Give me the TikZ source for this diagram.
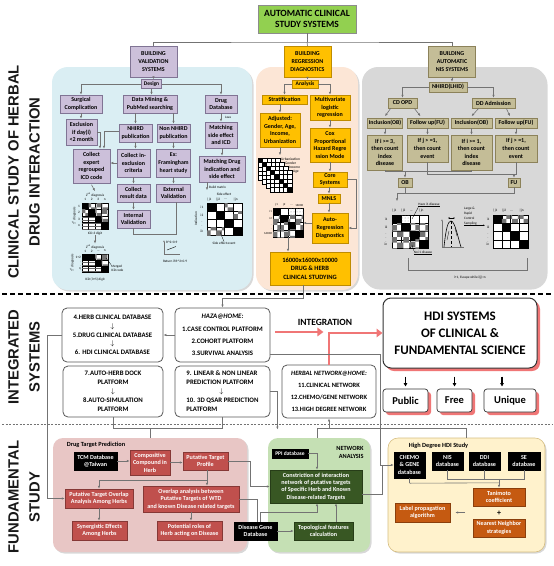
\documentclass[tikz,border=0pt]{standalone}
\usepackage{fontspec}
\setmainfont{Carlito}
\newfontfamily\arialf{Liberation Sans}
\usetikzlibrary{arrows.meta,patterns,shadows,calc}
\definecolor{purp}{RGB}{204,192,218}
\definecolor{purpd}{RGB}{128,116,148}
\definecolor{orng}{RGB}{255,192,0}
\definecolor{orngd}{RGB}{191,140,0}
\definecolor{khaki}{RGB}{196,189,151}
\definecolor{khakid}{RGB}{140,130,90}
\definecolor{tgreen}{RGB}{146,208,80}
\definecolor{pblue}{RGB}{218,238,243}
\definecolor{porng}{RGB}{252,230,214}
\definecolor{pgrey}{RGB}{216,216,216}
\definecolor{ppink}{RGB}{232,198,197}
\definecolor{pgreen}{RGB}{197,224,180}
\definecolor{pyell}{RGB}{255,242,204}
\definecolor{pyelld}{RGB}{214,190,130}
\definecolor{redb}{RGB}{192,80,77}
\definecolor{dgreen}{RGB}{56,87,35}
\definecolor{brownb}{RGB}{197,90,17}
\definecolor{salmon}{RGB}{240,118,118}
\newcommand{\mxgrid}[5]{%
  \foreach \mxrow [count=\mxi] in {#5} {%
    \foreach \mxt [count=\mxj] in \mxrow {%
      \draw[cell\mxt] ({#1+(\mxj-1)*#3},{#2+(\mxi-1)*#4}) rectangle ++(#3,#4);
    }%
  }%
}
\tikzset{
  sz/.style 2 args={minimum width=#1, minimum height=#2},
  bxbase/.style={align=center, inner sep=0pt, font=\bfseries\fontsize{6}{7.6}\selectfont},
  pb/.style={bxbase, fill=purp, draw=purpd, line width=0.5pt},
  ob/.style={bxbase, fill=orng, draw=orngd, line width=0.5pt},
  kb/.style={bxbase, fill=khaki, draw=khakid, line width=0.5pt},
  rb/.style={bxbase, fill=redb, draw=redb!70!black, line width=0.4pt, text=white, font=\bfseries\fontsize{6.1}{7.4}\selectfont},
  gb/.style={rb, fill=dgreen, draw=dgreen!70!black},
  blk/.style={rb, fill=black, draw=black},
  brb/.style={rb, fill=brownb, draw=brownb!70!black},
  ib/.style={bxbase, fill=white, draw=black!65, line width=0.8pt, rounded corners=5pt, font=\bfseries\fontsize{6.8}{8.7}\selectfont},
  hdibox/.style={bxbase, fill=white, draw=black!80, line width=1pt, rounded corners=8pt, drop shadow={shadow xshift=3pt, shadow yshift=-3pt, fill=salmon, opacity=1}, font=\bfseries\fontsize{13}{17}\selectfont},
  pfbox/.style={hdibox, line width=0.7pt, rounded corners=3pt, font=\bfseries\fontsize{10.5}{12}\selectfont},
  pnl/.style={inner sep=0pt, rounded corners=16pt, drop shadow={shadow xshift=1.5pt, shadow yshift=-1.5pt, opacity=0.3}},
  ptitle/.style={inner sep=0pt, font=\bfseries\fontsize{6.3}{7.5}\selectfont},
  tl/.style={inner sep=0pt, font=\fontsize{3.4}{4}\selectfont},
  sidelab/.style={rotate=90, align=center, inner sep=0pt, text=black!90, font=\arialf\bfseries\fontsize{14.8}{21}\selectfont},
  conn/.style={draw=black!55, line width=0.6pt},
  arr/.style={conn, -{Latex[length=3pt,width=2.4pt]}},
  barr/.style={draw=black, line width=1.1pt, -{Latex[length=3.5pt,width=4pt]}},
  parr/.style={draw=salmon, line width=2.8pt, -{Triangle[length=6pt,width=8.5pt]}},
  cellw/.style={fill=white, draw=black, line width=0.3pt},
  cellb/.style={fill=black, draw=black, line width=0.3pt},
  cellc/.style={fill=white, draw=black, line width=0.3pt, postaction={pattern=checkerboard, pattern color=black!55}},
  cellh/.style={fill=white, draw=black, line width=0.3pt, postaction={pattern=horizontal lines, pattern color=black!60}},
  celld/.style={fill=white, draw=black, line width=0.3pt, postaction={pattern=dots, pattern color=black!45}}
}
\begin{document}
\begin{tikzpicture}[x=1pt,y=-1pt]
\fill[white] (0,0) rectangle (554,566);
\useasboundingbox (0,0) rectangle (554,566);

% ---------- side labels ----------
\node[sidelab] (lab1) at (24,172) {CLINICAL STUDY OF HERBAL\\DRUG INTERACTION};
\node[sidelab] (lab2) at (24,357) {INTEGRATED\\SYSTEMS};
\node[sidelab] (lab3) at (24,497) {FUNDAMENTAL\\STUDY};

% ---------- dashed separators ----------
\coordinate (dl1a) at (2,294); \coordinate (dl1b) at (551,294);
\draw[line width=1.3pt, dash pattern=on 5pt off 3pt] (dl1a) -- (dl1b);
\coordinate (dl2a) at (2,424); \coordinate (dl2b) at (552,424);
\draw[line width=0.5pt, black!55, dash pattern=on 2pt off 1.5pt] (dl2a) -- (dl2b);

% ---------- panels ----------
\node[pnl, fill=pblue, sz={200}{223}] (pval) at (152,178.5) {};
\node[pnl, fill=porng, sz={102}{223}] (preg) at (307,178.5) {};
\node[pnl, fill=pgrey, sz={184}{221}] (pnis) at (454,177.5) {};
\node[pnl, fill=ppink, sz={194}{114}, rounded corners=10pt] (pdtp) at (150,495) {};
\node[pnl, fill=pgreen, sz={102}{114}, rounded corners=10pt] (pnet) at (319,495) {};
\node[pnl, fill=pyell, draw=pyelld, line width=0.6pt, sz={157}{114}, rounded corners=10pt] (phd) at (466.5,495) {};

% ---------- top ----------
\node[bxbase, fill=tgreen, draw=black!45, line width=0.6pt, sz={98}{28}, font=\bfseries\fontsize{9.5}{11.5}\selectfont] (title) at (307,19) {AUTOMATIC CLINICAL\\STUDY SYSTEMS};
\node[pb, sz={47}{31}, font=\bfseries\fontsize{6}{8}\selectfont] (bval) at (153.5,61.5) {BUILDING\\VALIDATION\\SYSTEMS};
\node[ob, sz={47}{31}, font=\bfseries\fontsize{6}{8}\selectfont] (breg) at (307.5,61.5) {BUILDING\\REGRESSION\\DIAGNOSTICS};
\node[kb, sz={47}{31}, font=\bfseries\fontsize{6}{8}\selectfont] (bnis) at (452,61.5) {BUILDING\\AUTOMATIC\\NIS SYSTEMS};
\coordinate (tj) at (307,42);
\draw[conn] (title.south) -- (tj);
\draw[conn] (bval.north) |- (tj) -| (bnis.north);
\draw[conn] (tj) -- (breg.north);

% ---------- blue panel ----------
\node[pb, sz={20}{9}, font=\bfseries\fontsize{5.5}{6}\selectfont] (design) at (151.5,84) {Design};
\node[pb, sz={42}{18}] (surg) at (81,104) {Surgical\\Complication};
\node[pb, sz={54}{18}] (dmin) at (150,104) {Data Mining \&\\PubMed searching};
\node[pb, sz={32}{18}] (drugdb) at (221,104) {Drug\\Database};
\node[pb, sz={31}{26}] (excl) at (81.5,132) {Exclusion\\if day(i)\\<2 month};
\node[pb, sz={33}{18}] (nhird) at (135.5,133) {NHIRD\\publication};
\node[pb, sz={33}{18}] (nonnhird) at (173.5,133) {Non NHIRD\\publication};
\node[pb, sz={32}{26}] (msde) at (221,135) {Matching\\side effect\\and ICD};
\node[pb, sz={37}{34}] (collexp) at (91.5,166) {Collect\\expert\\regrouped\\ICD code};
\node[pb, sz={33}{28}] (collinc) at (133.5,163) {Collect in-\\exclusion\\criteria};
\node[pb, sz={34}{28}, font=\bfseries\fontsize{5.8}{7.6}\selectfont] (fram) at (173.5,163) {Ex:\\Framingham\\heart study};
\node[pb, sz={46}{26}] (mdis) at (222,169) {Matching Drug\\indication and\\side effect};
\node[pb, sz={33}{18}] (collres) at (133.5,193) {Collect\\result data};
\node[pb, sz={34}{18}] (extval) at (173.5,193) {External\\Validation};
\node[pb, sz={33}{18}] (intval) at (133.5,219) {Internal\\Validation};
\node[tl, anchor=west] (java) at (225,117.5) {Java};

\draw[arr] (bval.south) -- (bval.south |- design.north);
\draw[arr] (design.west) -| (surg.north);
\draw[arr] (design.east) -| (drugdb.north);
\draw[arr] (design.south) -- (design.south |- dmin.north);
\draw[arr] (surg.south) -- (surg.south |- excl.north);
\draw[arr] (nhird.north |- dmin.south) -- (nhird.north);
\draw[arr] (nonnhird.north |- dmin.south) -- (nonnhird.north);
\draw[arr] (drugdb.south) -- (drugdb.south |- msde.north);
\path (collexp.north) ++(8.5,0) coordinate (cea);
\path (collexp.north) ++(12.5,0) coordinate (ceb);
\draw[arr] (excl.east) -| (cea);
\draw[arr] ([yshift=2pt]nhird.west) -| (ceb);
\draw[arr] (nhird.south) -- (nhird.south |- collinc.north);
\draw[arr] (nonnhird.south) -- (nonnhird.south |- fram.north);
\draw[arr] (collinc.west) -- (collinc.west -| collexp.east);
\draw[arr] (mdis.north |- msde.south) -- (mdis.north);
\draw[arr] (collinc.south) -- (collinc.south |- collres.north);
\draw[arr] (collres.south) -- (collres.south |- intval.north);
\draw[arr] (fram.south) -- (fram.south |- extval.north);
\draw[conn] (intval.south) -- ++(0,6) -| ([xshift=2.5pt]extval.south);

% matrix 1
\mxgrid{82}{203}{6.5}{6.5}{{b,c,c,c},{c,b,c,c},{h,h,b,c},{h,h,h,b}}
\node[tl] (m1t) at (95,194.5) {2\textsuperscript{nd} diagnosis};
\foreach \t [count=\k] in {1,2,3,n} \node[tl] (m1c\k) at ({82+(\k-0.5)*6.5},199.5) {\t};
\foreach \t [count=\k] in {1,2,3,n} \node[tl] (m1r\k) at (79,{203+(\k-0.5)*6.5}) {\t};
\node[tl, rotate=90] (m1l) at (74,216) {1\textsuperscript{st} diagnosis};
\node[tl] (m1b) at (95,233.5) {ICD-3 digit};
\draw[arr] ([yshift=-1.5pt]collexp.south) -- ([yshift=1pt]m1t.north);
% matrix 2
\node[tl] (m2t) at (95,247) {2\textsuperscript{nd} diagnosis};
\draw[arr] (m1b.south) -- ([yshift=1pt]m2t.north);
\foreach \t [count=\k] in {1,2,\ldots,n} \node[tl] (m2c\k) at ({82+(\k-0.5)*6.5},251) {\t};
\mxgrid{82}{254}{6.5}{6}{{b,b,c,c},{h,h,b,c},{h,h,h,b}}
\foreach \t [count=\k] in {1+2,$\vdots$,n} \node[tl, anchor=east] (m2r\k) at (81,{254+(\k-0.5)*6}) {\t};
\node[tl, rotate=90] (m2l) at (72,263) {1\textsuperscript{st} diagnosis};
\node[tl, align=left, anchor=west] (m2m) at (111,268) {Merged\\ICD code};
\coordinate (m2p) at (106,258);
\draw[line width=0.3pt] (m2m.north west) -- (m2p);
\node[tl] (m2b) at (95,280) {ICD (3+5) digit};
% R2 chart
\coordinate (r2o) at (164,254);
\draw[conn, -{Latex[length=2pt,width=1.6pt]}] (r2o) -- ++(0,-14);
\draw[conn] (r2o) -- ++(16,0);
\draw[line width=0.4pt] (167,250) -- (176,246.5);
\node[tl, anchor=west] (r2a) at (166,242) {R\textasciicircum 2>0.9};
\node[tl] (r2b) at (175,261) {Return if R\textasciicircum 2<0.9};
% matrix 3
\path (mdis.south) ++(-15,0) coordinate (bma);
\draw[arr] (bma) -- ++(0,8);
\node[tl, anchor=west] (bml) at (209,187) {Build matrix};
\node[tl] (m3t) at (224,194.5) {Side effect};
\foreach \t [count=\k] in {|j1,|j2,\ldots,|jn} \node[tl, anchor=west] (m3c\k) at ({207+(\k-1)*8.75},199.5) {\t};
\mxgrid{207}{203}{8.75}{8}{{b,w,c,w},{w,b,w,c},{w,w,b,w},{c,c,w,b}}
\foreach \t [count=\k] in {i1,i2,$\vdots$,in} \node[tl] (m3r\k) at (202,{203+(\k-0.5)*8}) {\t};
\node[tl, rotate=90] (m3l) at (196,219) {Indication};
\node[tl] (m3e) at (224,243) {Side effect event};
\coordinate (m3p) at (220,232);
\draw[line width=0.3pt] (m3e.north) -- (m3p);

% ---------- orange panel ----------
\node[ob, sz={26}{8}, font=\bfseries\fontsize{5.5}{6}\selectfont] (anal) at (305,84) {Analysis};
\node[ob, sz={45}{9}] (strat) at (284.5,99.5) {Stratification};
\node[ob, sz={40}{25}] (multi) at (330,107.5) {Multivariate\\logistic\\regression};
\node[ob, sz={40}{34}] (adj) at (280,130) {Adjusted:\\Gender, Age,\\Income,\\Urbanization};
\node[ob, sz={40}{34}] (cox) at (330,145) {Cox\\Proportional\\Hazard Regre\\ssion Mode};
\node[ob, sz={34}{15}] (core) at (330,179.5) {Core\\Systems};
\node[ob, sz={22}{9}] (mnls) at (329,198.5) {MNLS};
\node[ob, sz={36}{30}] (autoreg) at (330,228) {Auto-\\Regression\\Diagnostics};
\node[ob, sz={80}{33}, font=\bfseries\fontsize{6.5}{8.6}\selectfont] (big) at (310,268.5) {16000x16000x10000\\DRUG \& HERB\\CLINICAL STUDYING};
% stacked matrices
\foreach \k in {0,1,2,3} {
  \mxgrid{258+4*\k}{158+4*\k}{4.4}{4.4}{{b,w,w,w,w},{w,b,w,w,w},{w,w,b,w,w},{w,w,w,b,w},{w,w,w,w,b}}
}
\foreach \t [count=\k] in {Urbanization,Gender,Income,Age} \node[tl, anchor=west, font=\fontsize{3.6}{4}\selectfont] (sl\k) at ({277+4*\k},{155.5+4*\k}) {\t};
% matrix 4
\mxgrid{273}{208}{7.5}{7.25}{{b,w,d,d},{c,b,c,c},{c,c,b,c},{c,c,c,b}}
\node[inner sep=0pt, sz={30}{29}] (m4) at (288,222.5) {};
\foreach \t [count=\k] in {j1,j2,\ldots,16000} \node[tl, font=\fontsize{3}{3.5}\selectfont] (m4c\k) at ({273+(\k-0.5)*7.5},205) {\t};
\foreach \t [count=\k] in {i1,i2,$\vdots$,16000} \node[tl, anchor=east, font=\fontsize{3}{3.5}\selectfont] (m4r\k) at (272,{208+(\k-0.5)*7.25}) {\t};

\draw[arr] (breg.south) -- (breg.south |- anal.north);
\draw[arr] (anal.west) -| (strat.north);
\draw[arr] (anal.east) -| (multi.north);
\draw[arr] (adj.north |- strat.south) -- (adj.north);
\draw[arr] (adj.south) -- ([yshift=-8pt]adj.south);
\draw[arr] (multi.south) -- (multi.south |- cox.north);
\draw[arr] (cox.south) -- (cox.south |- core.north);
\draw[arr] (mnls.north |- core.south) -- (mnls.north);
\draw[arr] (mnls.south) -- (mnls.south |- autoreg.north);
\draw[arr] (core.east) -- ++(9,0) |- (autoreg.east);
\path (autoreg.west) ++(0,-5) coordinate (arw);
\draw[arr] (arw) -- (arw -| m4.east);
\draw[arr] (m4.south) -- (m4.south |- big.north);

% ---------- grey panel ----------
\node[kb, sz={38}{10}] (nhirdl) at (448,87) {NHIRD(LHID)};
\node[kb, sz={29}{10}] (cdopd) at (402.5,103) {CD OPD};
\node[kb, sz={43}{10}] (ddadm) at (493.5,103) {DD Admission};
\node[kb, sz={35}{10}, font=\bfseries\fontsize{5.8}{7.6}\selectfont] (inc1) at (385,123) {Inclusion(OB)};
\node[kb, sz={41}{10}] (fu1) at (427.5,123) {Follow up(FU)};
\node[kb, sz={41}{10}] (inc2) at (471.5,123) {Inclusion(OB)};
\node[kb, sz={42}{10}] (fu2) at (516,123) {Follow up(FU)};
\node[kb, sz={35}{35}] (if1) at (385,152.5) {If i >= 3,\\then count\\index\\disease};
\node[kb, sz={41}{27}] (if2) at (427.5,148.5) {If j > =1,\\then count\\event};
\node[kb, sz={41}{35}] (if3) at (471.5,152.5) {If i >= 1,\\then count\\index\\disease};
\node[kb, sz={42}{27}] (if4) at (516,148.5) {If j > =1,\\then count\\event};
\node[kb, sz={14}{9}] (ob) at (405,182.5) {OB};
\node[kb, sz={12}{9}] (fu) at (514,182.5) {FU};

\draw[arr] (bnis.south) -- (bnis.south |- nhirdl.north);
\draw[arr] (nhirdl.west) -| (cdopd.north);
\draw[arr] (nhirdl.east) -| (ddadm.north);
\draw[arr] ([xshift=3pt]cdopd.south west) -- ([yshift=1.5pt]inc1.north);
\draw[arr] ([xshift=-3pt]cdopd.south east) -- ([xshift=-7pt,yshift=1.5pt]fu1.north);
\draw[arr] ([xshift=7pt]ddadm.south west) -- ([yshift=1.5pt]inc2.north);
\draw[arr] ([xshift=-9pt]ddadm.south east) -- ([xshift=-6pt,yshift=1.5pt]fu2.north);
\draw[arr] (inc1.south) -- (if1.north);
\draw[arr] (fu1.south) -- (if2.north);
\draw[arr] (inc2.south) -- (if3.north);
\draw[arr] (fu2.south) -- (if4.north);
\draw[conn] (if1.south) -- ++(0,1.5) -| (if3.south);
\path (if1.south) ++(0,1.5) coordinate (obk);
\draw[arr] (obk -| ob.north) -- (ob.north);
\draw[conn] (if2.south) -- ++(0,12) -| (if4.south);
\path (if2.south) ++(0,12) coordinate (fuk);
\draw[arr] (fuk -| fu.north) -- (fu.north);
\draw[conn] (ob.south) -- ++(0,6) coordinate (obj);
\draw[conn] (fu.south) |- (obj);
\draw[arr] (obj) -- ++(-8,0) -- ++(0,8);
% matrix 5
\node[tl] (hv) at (429,205) {\underline{Have i1 disease}};
\foreach \t [count=\k] in {|j1,|j2,\ldots,|jn} \node[tl, anchor=west] (m5c\k) at ({392+(\k-1)*9},211) {\t};
\mxgrid{392}{215}{9}{8.25}{{b,d,w,w},{c,b,c,c},{c,c,b,c},{c,c,c,b}}
\foreach \t [count=\k] in {i1,i2,$\vdots$,in} \node[tl] (m5r\k) at (386,{215+(\k-0.5)*8.25}) {\t};
\coordinate (hvp) at (412,219);
\draw[line width=0.3pt] (hv.south west) -- (hvp);
\node[tl] (nov) at (423,253) {\underline{No i1 disease}};
\coordinate (nvp) at (412,245);
\draw[line width=0.3pt] (nov.north west) -- (nvp);
% chart
\coordinate (ch0) at (442,247);
\draw[conn, -{Latex[length=2pt,width=1.6pt]}] (ch0) -- ++(0,-28);
\draw[conn] (ch0) -- ++(22,0);
\draw[line width=0.6pt] (444,247) .. controls (446,228) and (448,221) .. (451,221) .. controls (455,221) and (458,238) .. (461,247);
\draw[line width=0.3pt, {Latex[length=1.5pt,width=1.5pt]}-{Latex[length=1.5pt,width=1.5pt]}] (448,218) -- (455,218);
\draw[line width=0.3pt, densely dashed] (451,221) -- (451,247);
\draw[line width=0.3pt] (447,240) -- (449,231);
\draw[line width=0.3pt] (455,228) -- (457,236);
\node[tl, align=left, anchor=north west, font=\fontsize{3.4}{5}\selectfont] (lrc) at (464,207) {Large \&\\Rapid\\Control\\Sampling};
\draw[line width=0.3pt, -{Latex[length=2pt,width=1.6pt]}] (lrc.south west) -- ++(21,0);
% matrix 6
\foreach \t [count=\k] in {|j1,|j2,\ldots,|jn} \node[tl, anchor=west] (m6c\k) at ({493+(\k-1)*8.75},211) {\t};
\mxgrid{493}{215}{8.75}{8.25}{{b,c,c,c},{w,b,w,w},{w,w,b,w},{w,w,w,b}}
\foreach \t [count=\k] in {i1,i2,$\vdots$,in} \node[tl] (m6r\k) at (488,{215+(\k-0.5)*8.25}) {\t};
% bracket
\coordinate (bk1) at (408,258); \coordinate (bk2) at (527,258);
\draw[conn] (bk1) -- ++(0,12) -| (bk2);
\node[tl] (esc) at (470,278) {i+1, Escape while i(j)=n};

% ---------- integrated systems ----------
\node[ib, sz={101}{54}] (db46) at (112.5,335) {4.HERB CLINICAL DATABASE\\$\downarrow$\\5.DRUG CLINICAL DATABASE\\$\downarrow$\\6. HDI CLINICAL DATABASE};
\node[ib, sz={95}{54}, font=\bfseries\fontsize{6.8}{12.4}\selectfont] (haza) at (222.5,335) {\textit{HAZA@HOME:}\\1.CASE CONTROL PLATFORM\\2.COHORT PLATFORM\\3.SURVIVAL ANALYSIS};
\node[ib, sz={100}{51}, font=\bfseries\fontsize{6.8}{9}\selectfont] (db78) at (113,391.5) {7.AUTO-HERB DOCK\\PLATFORM\\$\downarrow$\\8.AUTO-SIMULATION\\PLATFORM};
\node[ib, sz={95}{51}, align=left, font=\bfseries\fontsize{6.8}{9}\selectfont] (db910) at (222.5,391.5) {9. LINEAR \& NON LINEAR\\PREDICTION PLATFORM\\\hspace*{33pt}$\downarrow$\\10. 3D QSAR PREDICTION\\PLATFORM};
\node[ib, sz={94}{53}, font=\bfseries\fontsize{6.5}{12.2}\selectfont] (hn) at (329,391.5) {\textit{HERBAL NETWORK@HOME:}\\11.CLINICAL NETWORK\\12.CHEMO/GENE NETWORK\\13.HIGH DEGREE NETWORK};
\node[hdibox, sz={154}{70}] (hdi) at (460,333) {HDI SYSTEMS\\OF CLINICAL \&\\FUNDAMENTAL SCIENCE};
\node[pfbox, sz={45}{23}] (pub) at (405.5,400.5) {Public};
\node[pfbox, sz={35}{23}] (free) at (454.5,400.5) {Free};
\node[pfbox, sz={52}{23}] (uniq) at (510,400.5) {Unique};
\node[inner sep=0pt, font=\bfseries\fontsize{9.5}{11}\selectfont] (intl) at (325,322) {INTEGRATION};

\path (pub.north) ++(0,-12) coordinate (pa1);
\draw[barr] (pa1) -- ([yshift=2pt]pub.north);
\path (free.north) ++(0,-12) coordinate (pa2);
\draw[barr] (pa2) -- ([yshift=2pt]free.north);
\path (uniq.north) ++(-8,-12) coordinate (pa3);
\draw[barr] (pa3) -- ++(0,10);
\draw[parr] ([xshift=5pt,yshift=3pt]haza.east) -- ++(48,0);
\draw[parr] (hn.north) |- (hdi.west);

% ---------- fundamental study ----------
\node[ptitle] (dtpt) at (96,445) {Drug Target Prediction};
\node[blk, sz={43}{18}] (tcm) at (95.5,461) {TCM Database\\@Taiwan};
\node[rb, sz={40}{25}] (comp) at (150,462.5) {Compositive\\Compound in\\Herb};
\node[rb, sz={45}{18}] (ptp) at (205.5,461) {Putative Target\\Profile};
\node[rb, sz={68}{19}] (pto) at (99,498.5) {Putative Target Overlap\\Analysis Among Herbs};
\node[rb, sz={96}{26}] (ova) at (191,499) {Overlap analysis between\\Putative Targets of WTD\\and known Disease related targets};
\node[rb, sz={55}{19}] (syn) at (99.5,530.5) {Synergistic Effects\\Among Herbs};
\node[rb, sz={65}{19}] (pot) at (189.5,530.5) {Potential roles of\\Herb acting on Disease};
\node[blk, sz={43}{18}] (dgd) at (255.5,531) {Disease Gene\\Database};

\node[blk, sz={36}{9}, font=\bfseries\fontsize{5.5}{6}\selectfont] (ppi) at (290,453.5) {PPI database};
\node[ptitle, align=right] (netl) at (350,452.5) {NETWORK\\ANALYSIS};
\node[gb, sz={92}{33}] (cons) at (316,486.5) {Constriction of interaction\\network of putative targets\\of Specific Herb and Known\\Disease-related Targets};
\node[gb, sz={59}{18}] (topo) at (323.5,531) {Topological features\\calculation};

\node[ptitle] (hdt) at (438.5,446) {High Degree HDI Study};
\node[blk, sz={31}{26}] (chemo) at (409.5,465) {CHEMO\\\& GENE\\database};
\node[blk, sz={31}{18}] (nis) at (447.5,461) {NIS\\database};
\node[blk, sz={31}{18}] (ddi) at (484.5,461) {DDI\\database};
\node[blk, sz={32}{18}] (se) at (524,461) {SE\\database};
\node[brb, sz={52}{18}] (tan) at (499,497) {Tanimoto\\coefficient};
\node[inner sep=0pt, font=\bfseries\fontsize{8}{9}\selectfont] (plus) at (499,513) {+};
\node[brb, sz={52}{18}] (nn) at (499,528) {Nearest Neighbor\\strategies};
\node[brb, sz={55}{19}] (lp) at (422.5,512.5) {Label propagation\\algorithm};

% ---------- connectors between sections ----------
\draw[arr] (haza.west) -- (db46.east);
\draw[arr] (db46.west) -- ++(-14,0) |- (pto.west);
\draw[conn] (db78.south) -- ++(0,11) -| (db910.south);
\draw[conn] (pdtp.north) -- ++(0,-10);
\draw[arr] ([xshift=-7pt]big.south) -- ++(0,13) -| (haza.north);
\draw[arr] ([yshift=-19pt]haza.east) -- ++(110,0) |- (chemo.west);
\draw[arr] (db910.east) -- ++(7,0) -- ++(0,38);
\path (hn.south) ++(0,10) coordinate (hnj);
\draw[arr] (hnj) -- (hn.south);
\draw[conn] ([xshift=-2pt]pnet.north) -- ++(0,-10) -| (phd.north);

\draw[arr] (tcm.east) -- (tcm.east -| comp.west);
\draw[arr] (comp.east) -- (comp.east -| ptp.west);
\draw[conn] ([xshift=1.5pt]ptp.south) -- ++(0,10) coordinate (ptj);
\draw[arr] (ptj) -| (pto.north);
\draw[arr] (ptj) -- (ptj |- ova.north);
\draw[arr] (pto.south) -- (pto.south |- syn.north);
\draw[arr] (ova.south) -- (ova.south |- pot.north);
\draw[arr] (ptp.east) -- ++(22,0) |- (cons.west);
\draw[conn] (ova.east) -| ([xshift=1.5pt]dgd.north);
\draw[arr] ([xshift=5pt]dgd.north) -- ++(0,-10) -| ([xshift=1pt]cons.south);
\draw[arr] (ppi.east) -| ([xshift=1pt]cons.north);
\draw[arr] (dgd.east) -- (dgd.east -| topo.west);
\path (topo.north) ++(12.5,0) coordinate (tpa);
\draw[arr] (tpa) -- (tpa |- cons.south);
\draw[conn] ([yshift=-7.5pt]cons.east) -| ([xshift=-12pt]chemo.west);

\draw[conn] (nis.south) -- ++(0,9) -| (se.south);
\draw[conn] (ddi.south) -- ++(0,9);
\draw[conn] (chemo.south) -- ++(0,5) coordinate (chj);
\path (tan.north) ++(0,-5) coordinate (tnj);
\path (tan.north) ++(0,-9) coordinate (tnk);
\draw[conn] (chj) -- (tnj);
\draw[arr] (tnk) -- (tan.north);
\draw[arr] ([xshift=15pt]lp.east) -- ([xshift=5pt]lp.east);
\end{tikzpicture}
\end{document}
